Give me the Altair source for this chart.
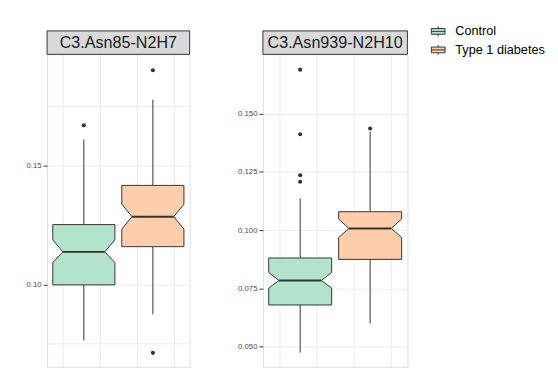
import altair as alt
import pandas as pd

# ---------------- data ----------------
groups = ["Control", "Type 1 diabetes"]
panel_titles = ["C3.Asn85-N2H7", "C3.Asn939-N2H10"]

# panel 1: C3.Asn85-N2H7
asn85_lower = [0.0764, 0.0874]
asn85_q1 = [0.0998, 0.1159]
asn85_notch_lo = [0.1092, 0.1233]
asn85_median = [0.1137, 0.1285]
asn85_notch_hi = [0.1188, 0.1338]
asn85_q3 = [0.1252, 0.1417]
asn85_upper = [0.1610, 0.1778]
asn85_outliers = [[0.1670], [0.1902, 0.0712]]

# panel 2: C3.Asn939-N2H10
asn939_lower = [0.0473, 0.0599]
asn939_q1 = [0.0678, 0.0874]
asn939_notch_lo = [0.0751, 0.0968]
asn939_median = [0.0783, 0.1007]
asn939_notch_hi = [0.0818, 0.1048]
asn939_q3 = [0.0880, 0.1079]
asn939_upper = [0.1136, 0.1424]
asn939_outliers = [[0.1690, 0.1412, 0.1236, 0.1208], [0.1437]]

asn85_ticks = [0.075, 0.10, 0.125, 0.15, 0.175]
asn939_ticks = [0.05, 0.0625, 0.075, 0.0875, 0.10, 0.1125, 0.125, 0.1375, 0.15, 0.1625]

# ---------------- style ----------------
FILL = ["#B3E2CD", "#FDCDAC"]
DARK = "#333333"
GRID = "#EBEBEB"
CENTER = [-0.1875, 0.1875]
BOX_HW = 0.16875
NOTCH_HW = 0.1135
XDOM = [-0.3873, 0.3873]
H = 320
FONT = "Liberation Sans"

LEGEND_PATH = "M-1,-0.42H1V0.42H-1Z M-1,0H1 M0,-0.42V-0.72 M0,0.42V0.72"


def build_panel(title, lower, q1, nlo, med, nhi, q3, upper, outliers,
                ydom, yfmt, ticks, major_mult, W):
    poly, whisk, meds, outs = [], [], [], []
    for g, name in enumerate(groups):
        c = CENTER[g]
        pts = [(q1[g], BOX_HW), (nlo[g], BOX_HW), (med[g], NOTCH_HW),
               (nhi[g], BOX_HW), (q3[g], BOX_HW)]
        for k, (yv, hw) in enumerate(pts):
            poly.append(dict(group=name, ord=k, y=yv, xl=c - hw, xr=c + hw))
        whisk.append(dict(group=name, x=c, y=q3[g], y2=upper[g]))
        whisk.append(dict(group=name, x=c, y=q1[g], y2=lower[g]))
        meds.append(dict(group=name, xl=c - NOTCH_HW, xr=c + NOTCH_HW, y=med[g]))
        for o in outliers[g]:
            outs.append(dict(group=name, x=c, y=o))

    xsc = alt.Scale(domain=XDOM, nice=False, zero=False)
    ysc = alt.Scale(domain=ydom, nice=False, zero=False)
    xax = alt.Axis(values=[-0.3, -0.2, -0.1, 0.0, 0.1, 0.2, 0.3], labels=False,
                   ticks=False, domain=False, title=None, gridColor=GRID,
                   gridWidth=1)
    test = f"abs(datum.value*{major_mult} - round(datum.value*{major_mult})) < 0.001"
    yax = alt.Axis(values=ticks, format=yfmt, title=None, domain=False,
                   gridColor=GRID, gridWidth=1, tickColor=DARK, tickSize=4,
                   labelColor="#4D4D4D", labelFontSize=8, labelFont=FONT,
                   labelPadding=2,
                   labelExpr=f"{test} ? datum.label : ''",
                   tickOpacity={"condition": {"test": test, "value": 1}, "value": 0})

    leg = alt.Legend(title=None, orient="none", legendX=393, legendY=-31,
                     symbolType=LEGEND_PATH, symbolSize=196,
                     symbolStrokeColor=DARK, symbolStrokeWidth=1,
                     labelFontSize=13, labelFont=FONT, labelColor="#000000",
                     labelOffset=10, rowPadding=4, padding=0)

    box = alt.Chart(pd.DataFrame(poly)).mark_area(
        orient="horizontal", stroke=DARK, strokeWidth=1, opacity=1
    ).encode(
        y=alt.Y("y:Q", scale=ysc, axis=yax),
        x=alt.X("xl:Q", scale=xsc, axis=xax, stack=None),
        x2="xr:Q",
        color=alt.Color("group:N", scale=alt.Scale(domain=groups, range=FILL), legend=leg),
    )

    wh = alt.Chart(pd.DataFrame(whisk)).mark_rule(color=DARK, strokeWidth=1).encode(
        x=alt.X("x:Q", scale=xsc), y=alt.Y("y:Q", scale=ysc), y2="y2:Q",
    )
    md = alt.Chart(pd.DataFrame(meds)).mark_rule(color=DARK, strokeWidth=2).encode(
        x=alt.X("xl:Q", scale=xsc), x2="xr:Q", y=alt.Y("y:Q", scale=ysc),
    )
    pt = alt.Chart(pd.DataFrame(outs)).mark_circle(color=DARK, size=18, opacity=1).encode(
        x=alt.X("x:Q", scale=xsc), y=alt.Y("y:Q", scale=ysc),
    )

    strip_df = pd.DataFrame({"t": [title]})
    srect = alt.Chart(strip_df).mark_rect(fill="#D9D9D9", stroke=DARK, strokeWidth=1).encode(
        x=alt.value(0), x2=alt.value(W), y=alt.value(-24), y2=alt.value(0),
    )
    stext = alt.Chart(strip_df).mark_text(
        fontSize=16.5, font=FONT, color="#1A1A1A", baseline="middle", align="center"
    ).encode(x=alt.value(W / 2), y=alt.value(-11.5), text="t:N")

    return alt.layer(wh, box, md, pt, srect, stext).properties(width=W, height=H)


p1 = build_panel(panel_titles[0], asn85_lower, asn85_q1, asn85_notch_lo, asn85_median,
                 asn85_notch_hi, asn85_q3, asn85_upper, asn85_outliers,
                 [0.0653, 0.1969], ".2f", asn85_ticks, 20, 146)
p2 = build_panel(panel_titles[1], asn939_lower, asn939_q1, asn939_notch_lo, asn939_median,
                 asn939_notch_hi, asn939_q3, asn939_upper, asn939_outliers,
                 [0.0412, 0.1756], ".3f", asn939_ticks, 40, 148)

chart = alt.hconcat(p1, p2, spacing=47).resolve_scale(
    y="independent", x="independent", color="shared"
).properties(
    padding={"left": 17, "top": 12, "right": 5, "bottom": 5}
).configure_view(
    stroke=DARK, strokeWidth=1, fill="white"
).configure(background="white")

chart.save("out.html", embed_options={"renderer": "svg", "actions": False})
